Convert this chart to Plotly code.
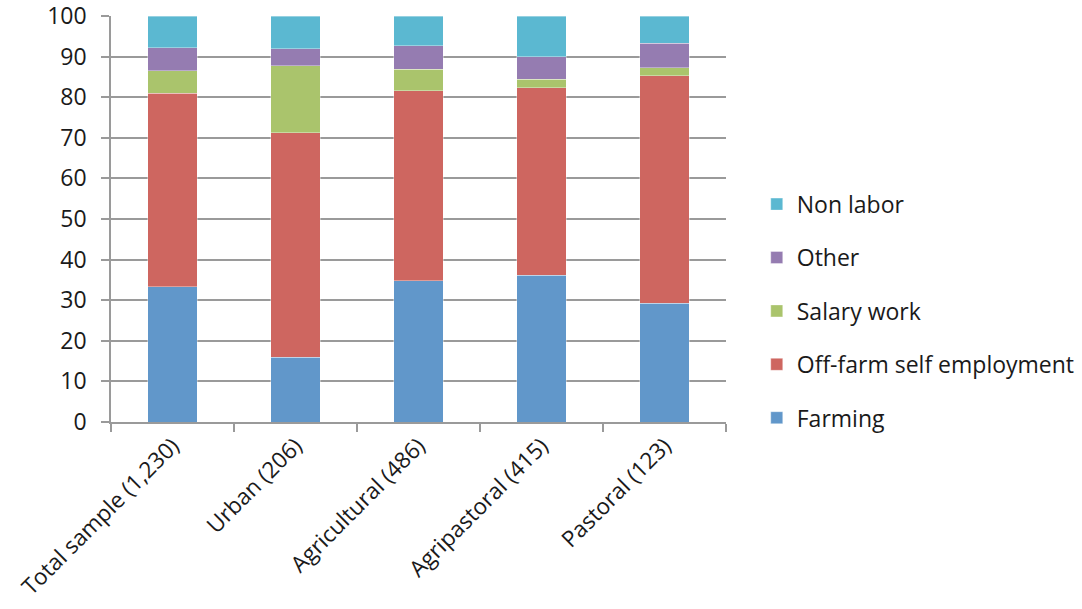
import plotly.graph_objects as go

categories = ["Total sample (1,230)", "Urban (206)", "Agricultural (486)", "Agripastoral (415)", "Pastoral (123)"]
farming = [33.3, 15.9, 34.8, 36.1, 29.2]
off_farm = [47.7, 55.4, 46.8, 46.2, 56.1]
salary = [5.5, 16.5, 5.3, 2.1, 1.9]
other = [5.7, 4.1, 5.8, 5.6, 6.1]
non_labor = [7.8, 8.1, 7.3, 10.0, 6.7]

series = [
    ("Farming", farming, "#6197CA"),
    ("Off-farm self employment", off_farm, "#CE6660"),
    ("Salary work", salary, "#AAC46C"),
    ("Other", other, "#957CB1"),
    ("Non labor", non_labor, "#5BB8D1"),
]

fig = go.Figure()
n = len(series)
for i, (name, vals, col) in enumerate(series):
    fig.add_trace(go.Bar(
        x=categories, y=vals, name=name, legendgroup=name,
        legendrank=n - i,
        marker=dict(color=col, line=dict(width=0.6, color="rgba(255,255,255,0.6)")),
    ))

FONT = "Open Sans, Liberation Sans, sans-serif"
fig.update_layout(
    barmode="stack",
    bargap=0.6,
    width=1082, height=609,
    margin=dict(l=111, r=356, t=16, b=187, pad=0, autoexpand=False),
    plot_bgcolor="white", paper_bgcolor="white",
    font=dict(family=FONT, size=23, color="#1a1a1a"),
    legend=dict(
        traceorder="grouped",
        tracegroupgap=20.5,
        x=1.05, y=0.273, xanchor="left", yanchor="middle",
        font=dict(size=23, family=FONT, color="#1a1a1a"),
        itemwidth=30,
    ),
    xaxis=dict(
        showline=True, linecolor="#9a9a9a", linewidth=1.5,
        ticks="outside", tickson="boundaries", ticklen=8, tickcolor="#9a9a9a", tickwidth=1.5,
        tickangle=-45, tickfont=dict(size=22.5),
        showgrid=False, automargin=False, ticklabeloverflow="allow",
    ),
    yaxis=dict(
        range=[0, 100], dtick=10,
        showline=True, linecolor="#9a9a9a", linewidth=1.5,
        ticks="outside", ticklen=8, tickcolor="#9a9a9a", tickwidth=1.5,
        showgrid=True, gridcolor="#9a9a9a", gridwidth=1.5,
        tickfont=dict(size=23), zeroline=False, automargin=False,
        ticklabelstandoff=10, ticklabeloverflow="allow",
    ),
)

fig.write_html("out.html")
